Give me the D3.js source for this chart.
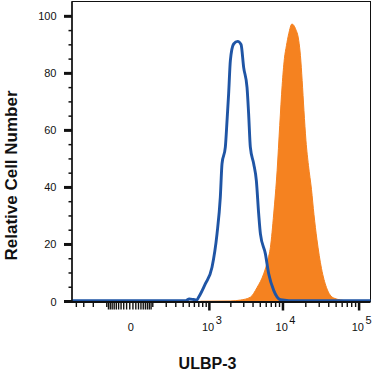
<!DOCTYPE html>
<html>
<head>
<meta charset="utf-8">
<script src="https://cdn.jsdelivr.net/npm/d3@7"></script>
<style>
    body { margin: 0; background: #fff; }
    svg { display: block; }
</style>
</head>
<body>
<div id="chart"></div>
<script>
// Isotype control (blue outline)
let isoX = [-470, 300, 440, 500, 580, 650, 695, 873, 1091, 1285, 1430, 1510, 1679, 1773, 1865, 1970, 2185, 2479, 2756, 2990, 3320, 3490, 3680, 4080, 4430, 4760, 5020, 5850, 6470, 7540, 9250, 12000, 141000];
let isoY = [0.3, 0.3, 0.3, 0.9, 0.7, 0.5, 1.5, 6.2, 12.0, 23.7, 36.6, 48.3, 54.1, 63.4, 72.8, 84.5, 90.3, 91.2, 90.1, 82.1, 75.1, 65.8, 54.1, 48.3, 42.4, 30.7, 23.7, 16.7, 9.7, 3.9, 0.6, 0.3, 0.3];

// ULBP-3 stained (orange filled)
let ulbpX = [737, 2000, 2697, 3680, 4530, 5550, 6270, 6820, 7540, 8370, 9060, 9750, 10450, 11110, 11920, 13130, 14610, 16140, 17000, 17900, 18900, 20090, 21670, 23740, 25590, 28010, 32120, 37360, 46600, 69900, 89800];
let ulbpY = [0.1, 0.2, 0.5, 1.5, 4.9, 9.7, 14.4, 19.0, 30.7, 45.9, 61.7, 75.7, 85.2, 89.7, 93.9, 97.3, 95.7, 91.5, 86.2, 77.5, 67.0, 56.4, 47.7, 39.3, 30.5, 21.7, 11.6, 4.9, 1.2, 0.2, 0];

// Axis ticks and labels
let yMajorTicks = [0, 20, 40, 60, 80, 100];
let yMinorTicks = d3.range(0, 105, 5).filter((v) => v % 20 !== 0);
let xMajorTicks = [1e3, 1e4, 1e5];
let xLabelValues = [0, 1e3, 1e4, 1e5];
let xLabelBase = ["0", "10", "10", "10"];
let xLabelExp = ["", "3", "4", "5"];

let width = 372;
let height = 373;

// logicle-like minor ticks
let xMinorTicks = [-400, -300, -200, -100]
    .concat(d3.range(-90, 0, 10))
    .concat([0])
    .concat(d3.range(10, 100, 10))
    .concat(d3.range(100, 1000, 100))
    .concat(d3.range(2000, 10000, 1000))
    .concat(d3.range(20000, 100000, 10000));

let svg = d3.select("#chart")
    .append("svg")
    .attr("width", width)
    .attr("height", height);

let plotLeft = 72, plotRight = 370.5, plotTop = 1.5, plotBottom = 301.5;

let x = d3.scaleSymlog()
    .constant(100)
    .domain([-470, 141000])
    .range([plotLeft, plotRight]);

let y = d3.scaleLinear()
    .domain([0, 105.2])
    .range([plotBottom, plotTop]);

let font = "'Liberation Sans', Arial, sans-serif";

// frame
svg.append("rect")
    .attr("x", plotLeft)
    .attr("y", plotTop)
    .attr("width", plotRight - plotLeft)
    .attr("height", plotBottom - plotTop)
    .attr("fill", "none")
    .attr("stroke", "#111")
    .attr("stroke-width", 1);

// orange filled histogram
let ulbpData = ulbpX.map((v, i) => ({ x: v, y: ulbpY[i] }));
svg.append("path")
    .datum(ulbpData)
    .attr("d", d3.area()
        .x((d) => x(d.x))
        .y0(y(0))
        .y1((d) => y(d.y))
        .curve(d3.curveMonotoneX))
    .attr("fill", "#f58220")
    .attr("stroke", "#f58220")
    .attr("stroke-width", 1);

// blue isotype line
let isoData = isoX.map((v, i) => ({ x: v, y: isoY[i] }));
svg.append("path")
    .datum(isoData)
    .attr("d", d3.line()
        .x((d) => x(d.x))
        .y((d) => y(d.y))
        .curve(d3.curveMonotoneX))
    .attr("fill", "none")
    .attr("stroke", "#1f55a5")
    .attr("stroke-width", 2.9)
    .attr("stroke-linejoin", "round");

// bottom axis line
svg.append("line")
    .attr("x1", plotLeft)
    .attr("x2", plotRight)
    .attr("y1", plotBottom + 0.5)
    .attr("y2", plotBottom + 0.5)
    .attr("stroke", "#111")
    .attr("stroke-width", 2);

// left axis line
svg.append("line")
    .attr("x1", plotLeft)
    .attr("x2", plotLeft)
    .attr("y1", plotTop)
    .attr("y2", plotBottom + 1.5)
    .attr("stroke", "#111")
    .attr("stroke-width", 1.5);

// y ticks
svg.selectAll("line.ymaj")
    .data(yMajorTicks)
    .join("line")
    .attr("class", "ymaj")
    .attr("x1", plotLeft - 8)
    .attr("x2", plotLeft)
    .attr("y1", (d) => y(d))
    .attr("y2", (d) => y(d))
    .attr("stroke", "#111")
    .attr("stroke-width", 3);

svg.selectAll("line.ymin")
    .data(yMinorTicks)
    .join("line")
    .attr("class", "ymin")
    .attr("x1", plotLeft - 3.5)
    .attr("x2", plotLeft)
    .attr("y1", (d) => y(d))
    .attr("y2", (d) => y(d))
    .attr("stroke", "#111")
    .attr("stroke-width", 1.5);

svg.selectAll("text.ylab")
    .data(yMajorTicks)
    .join("text")
    .attr("class", "ylab")
    .attr("x", 56.5)
    .attr("y", (d) => y(d) + 4)
    .attr("text-anchor", "end")
    .style("font-family", font)
    .style("font-size", "11px")
    .attr("fill", "#111")
    .text((d) => d);

// x ticks (the ones around zero are drawn longer, as in the logicle axis)
svg.selectAll("line.xmin")
    .data(xMinorTicks)
    .join("line")
    .attr("class", "xmin")
    .attr("x1", (d) => x(d))
    .attr("x2", (d) => x(d))
    .attr("y1", plotBottom + 1)
    .attr("y2", (d) => plotBottom + (Math.abs(d) < 100 ? 8 : 5.5))
    .attr("stroke", "#111")
    .attr("stroke-width", 1.4);

svg.selectAll("line.xmaj")
    .data(xMajorTicks)
    .join("line")
    .attr("class", "xmaj")
    .attr("x1", (d) => x(d))
    .attr("x2", (d) => x(d))
    .attr("y1", plotBottom + 1)
    .attr("y2", plotBottom + 9)
    .attr("stroke", "#111")
    .attr("stroke-width", 2.5);

let xl = svg.selectAll("text.xlab")
    .data(xLabelValues)
    .join("text")
    .attr("class", "xlab")
    .attr("x", (d, i) => x(d) + (i === 0 ? 1 : 2.5))
    .attr("y", 331)
    .attr("text-anchor", "middle")
    .style("font-family", font)
    .style("font-size", "11px")
    .attr("fill", "#111");

xl.append("tspan").text((d, i) => xLabelBase[i]);
xl.append("tspan")
    .attr("dx", 1.5)
    .attr("dy", -7)
    .style("font-size", "11px")
    .text((d, i) => xLabelExp[i]);

// axis titles
svg.append("text")
    .attr("x", 207.5)
    .attr("y", 369)
    .attr("text-anchor", "middle")
    .style("font-family", font)
    .style("font-size", "16px")
    .style("font-weight", "bold")
    .attr("fill", "#111")
    .text("ULBP-3");

svg.append("text")
    .attr("transform", "translate(16.5,175.5) rotate(-90)")
    .attr("text-anchor", "middle")
    .style("font-family", font)
    .style("font-size", "17px")
    .style("font-weight", "bold")
    .attr("fill", "#111")
    .text("Relative Cell Number");
</script>
</body>
</html>
